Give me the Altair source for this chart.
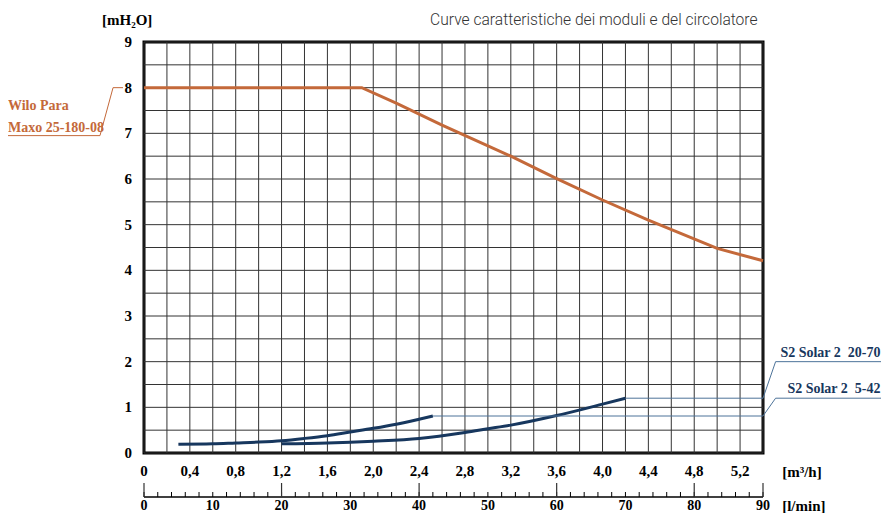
import altair as alt
import pandas as pd

# ---- data (flow in m3/h, head in mH2O) ----
wilo_q = [0.0, 1.9, 2.2, 2.6, 3.2, 3.6, 4.0, 4.4, 5.0, 5.4]
wilo_h = [8.0, 8.0, 7.66, 7.18, 6.5, 6.01, 5.54, 5.1, 4.48, 4.21]

s542_q = [0.3, 0.6, 0.8, 1.0, 1.2, 1.4, 1.6, 1.8, 2.0, 2.2, 2.4, 2.52]
s542_h = [0.19, 0.2, 0.22, 0.24, 0.27, 0.32, 0.38, 0.46, 0.54, 0.63, 0.74, 0.81]

s2070_q = [1.2, 1.6, 2.0, 2.4, 2.8, 3.0, 3.2, 3.6, 4.0, 4.2]
s2070_h = [0.2, 0.22, 0.26, 0.32, 0.45, 0.53, 0.61, 0.82, 1.07, 1.2]

# grid and tick labels
m3h_grid = [0, 0.2, 0.4, 0.6, 0.8, 1.0, 1.2, 1.4, 1.6, 1.8, 2.0, 2.2, 2.4, 2.6,
            2.8, 3.0, 3.2, 3.4, 3.6, 3.8, 4.0, 4.2, 4.4, 4.6, 4.8, 5.0, 5.2, 5.4]
m3h_ticks = [0, 0.4, 0.8, 1.2, 1.6, 2.0, 2.4, 2.8, 3.2, 3.6, 4.0, 4.4, 4.8, 5.2]
m3h_tick_labels = ["0", "0,4", "0,8", "1,2", "1,6", "2,0", "2,4", "2,8",
                   "3,2", "3,6", "4,0", "4,4", "4,8", "5,2"]
head_grid = [0, 0.5, 1, 1.5, 2, 2.5, 3, 3.5, 4, 4.5, 5, 5.5, 6, 6.5, 7, 7.5, 8, 8.5, 9]
head_ticks = [0, 1, 2, 3, 4, 5, 6, 7, 8, 9]
lmin_minor = list(range(0, 91, 2))
lmin_major = [0, 20, 40, 60, 80, 90]
lmin_labels = [0, 10, 20, 30, 40, 50, 60, 70, 80, 90]
M3H_PER_LMIN = 0.06  # 1 l/min = 0.06 m3/h

# annotation leaders (data units)
wilo_lead_q = [-1.187, -0.384, -0.27, -0.183]
wilo_lead_h = [6.95, 6.95, 8.0, 8.0]
s542_lead_q = [2.52, 5.4, 5.51, 6.43]
s542_lead_h = [0.81, 0.81, 1.2, 1.2]
s2070_lead_q = [4.2, 5.4, 5.51, 6.43]
s2070_lead_h = [1.2, 1.2, 2.0, 2.0]

ORANGE = "#c4693a"
NAVY = "#17375e"
LEAD_BLUE = "#4d7399"
GRID = "#333333"
SERIF = "Liberation Serif"

xscale = alt.Scale(domain=[0, 5.4], nice=False, zero=False)
yscale = alt.Scale(domain=[0, 9], nice=False, zero=False)
X = alt.X("q:Q", scale=xscale, axis=None)
Y = alt.Y("h:Q", scale=yscale, axis=None)


def df(q, h):
    return pd.DataFrame({"q": q, "h": h, "i": list(range(len(q)))})


# grid (spans the full axis domains)
vgrid = alt.Chart(pd.DataFrame({"q": m3h_grid})).transform_calculate(
    h="0", h2="9"
).mark_rule(color=GRID, strokeWidth=1).encode(x=X, y=Y, y2="h2:Q")
hgrid = alt.Chart(pd.DataFrame({"h": head_grid})).transform_calculate(
    q="0", q2="5.4"
).mark_rule(color=GRID, strokeWidth=1).encode(y=Y, x=X, x2="q2:Q")

# tick labels
xlab = alt.Chart(pd.DataFrame({"q": m3h_ticks, "t": m3h_tick_labels})).mark_text(
    font=SERIF, fontSize=15, fontWeight="bold", color="black", baseline="middle", align="center"
).encode(x=X, y=alt.value(429), text="t:N")
ylab = alt.Chart(pd.DataFrame({"h": head_ticks})).mark_text(
    font=SERIF, fontSize=15, fontWeight="bold", color="black", baseline="middle", align="right"
).encode(y=Y, x=alt.value(-12), text="h:Q")

wilo = alt.Chart(df(wilo_q, wilo_h)).mark_line(color=ORANGE, strokeWidth=3).encode(x=X, y=Y)


def curve(q, h, color, width):
    return alt.Chart(df(q, h)).mark_line(color=color, strokeWidth=width, interpolate="monotone").encode(x=X, y=Y)


def leader(q, h, color):
    return alt.Chart(df(q, h)).mark_line(color=color, strokeWidth=1).encode(x=X, y=Y, order="i:O")


c542 = curve(s542_q, s542_h, NAVY, 3)
c2070 = curve(s2070_q, s2070_h, NAVY, 3)
l_wilo = leader(wilo_lead_q, wilo_lead_h, ORANGE)
l_542 = leader(s542_lead_q, s542_lead_h, LEAD_BLUE)
l_2070 = leader(s2070_lead_q, s2070_lead_h, LEAD_BLUE)


def label(rows, color, align, font, size, weight, baseline="alphabetic"):
    d = pd.DataFrame(rows, columns=["q", "h", "t"])
    return alt.Chart(d).mark_text(
        color=color, align=align, baseline=baseline, font=font,
        fontSize=size, fontWeight=weight,
    ).encode(x=X, y=Y, text="t:N")


t_wilo = label([(-1.187, 7.51, "Wilo Para"), (-1.187, 7.04, "Maxo 25-180-08")],
               ORANGE, "left", SERIF, 14, "bold")
t_solar = label([(6.425, 2.10, "S2 Solar 2\u00a0 20-70"), (6.425, 1.31, "S2 Solar 2\u00a0 5-42")],
                NAVY, "right", SERIF, 14, "bold")
t_units = label([(-0.366, 9.37, "[mH\u2082O]"), (5.567, -0.53, "[m\u00b3/h]")],
                "black", "left", SERIF, 15, "bold")
t_lmin_unit = label([(5.567, -1.16, "[l/min]")], "black", "left", SERIF, 15, "bold", baseline="middle")
t_title = label([(2.496, 9.37, "Curve caratteristiche dei moduli e del circolatore")],
                "#333333", "left", "Roboto", 15.6, 300)

# second flow scale (l/min) drawn below, converted onto the same m3/h scale
conv = f"datum.lmin * {M3H_PER_LMIN}"
lmin_domain = alt.Chart(pd.DataFrame({"lmin": [lmin_labels[0]], "lmin2": [lmin_labels[-1]]})).transform_calculate(
    q=conv, q2=f"datum.lmin2 * {M3H_PER_LMIN}"
).mark_rule(color="black", strokeWidth=1.5).encode(x=X, x2="q2:Q", y=alt.value(455))
minor = alt.Chart(pd.DataFrame({"lmin": lmin_minor})).transform_calculate(q=conv).mark_rule(
    color="black", strokeWidth=1).encode(x=X, y=alt.value(450), y2=alt.value(455))
major = alt.Chart(pd.DataFrame({"lmin": lmin_major})).transform_calculate(q=conv).mark_rule(
    color="#333333", strokeWidth=1.2).encode(x=X, y=alt.value(441), y2=alt.value(455))
lmin_text = alt.Chart(pd.DataFrame({"lmin": lmin_labels})).transform_calculate(q=conv).mark_text(
    font=SERIF, fontSize=14, fontWeight="bold", color="black", baseline="middle", align="center"
).encode(x=X, y=alt.value(464), text="lmin:Q")

chart = alt.layer(
    vgrid, hgrid, xlab, ylab,
    wilo, c542, c2070, l_wilo, l_542, l_2070, t_wilo, t_solar, t_units, t_lmin_unit, t_title,
    lmin_domain, minor, major, lmin_text,
).properties(
    width=619, height=411,
    padding={"left": 136, "top": 34, "right": 118, "bottom": 60},
    autosize=alt.AutoSizeParams(type="none"),
    background="white",
).configure_view(stroke="black", strokeWidth=3)

chart.save("out.html", embed_options={"renderer": "svg", "actions": False})
